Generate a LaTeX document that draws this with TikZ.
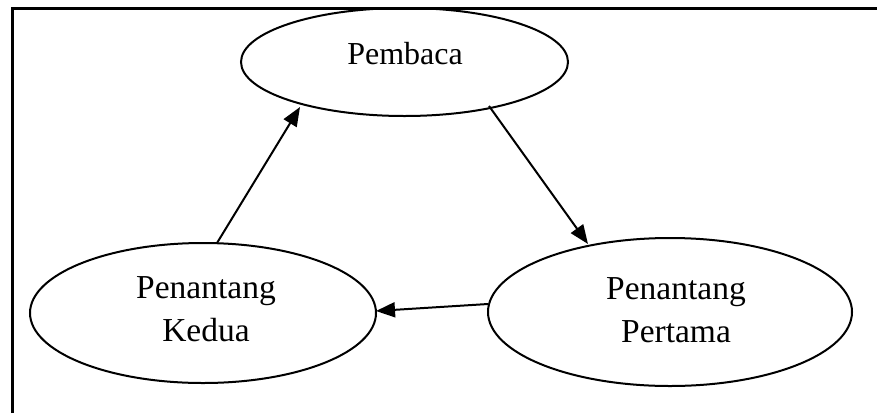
\documentclass[tikz,border=0pt]{standalone}
\usepackage{fontspec}
\setmainfont{Liberation Serif}
\usetikzlibrary{shapes.geometric,arrows.meta}
\begin{document}
\begin{tikzpicture}[x=1pt,y=-1pt,
  oval/.style={draw,line width=2pt,ellipse,inner sep=0pt},
  lbl/.style={font=\fontsize{33.5}{43}\selectfont,align=center,inner sep=0pt},
  arr/.style={line width=2pt,-{Triangle[length=19pt,width=15pt]}}]
\useasboundingbox (0,0) rectangle (877,413);
\draw[line width=3pt] (12,413) -- (12,8) -- (877,8);
\node[oval,minimum width=327pt,minimum height=108pt] (pem) at (404.5,62) {};
\node[oval,minimum width=346pt,minimum height=140pt] (ked) at (203,313) {};
\node[oval,minimum width=364pt,minimum height=148pt] (per) at (670,312) {};
\node[lbl,font=\fontsize{32}{43}\selectfont] (tpem) at (405,54) {Pembaca};
\node[lbl] (tked) at (206,309) {Penantang\\Kedua};
\node[lbl] (tper) at (676,310) {Penantang\\Pertama};
\coordinate (s1) at (489,106);
\coordinate (e1) at (588,244);
\coordinate (s2) at (217,243);
\coordinate (e2) at (300,107);
\coordinate (s3) at (488,304);
\coordinate (e3) at (376,311);
\draw[arr] (s1) -- (e1);
\draw[arr] (s2) -- (e2);
\draw[arr] (s3) -- (e3);
\end{tikzpicture}
\end{document}
